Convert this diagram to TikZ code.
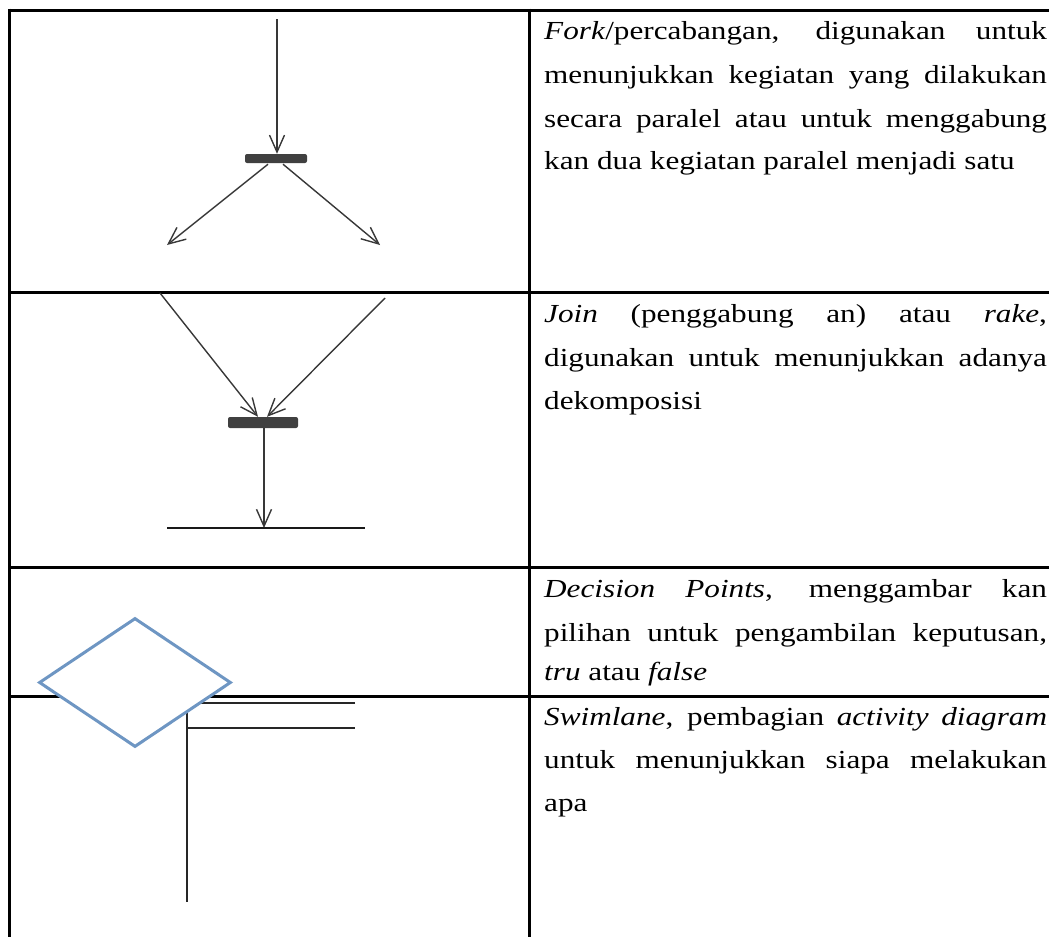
\documentclass[tikz,border=0pt]{standalone}
\usepackage{fontspec}
\setmainfont{Liberation Serif}
\usepackage{graphicx}
\usetikzlibrary{arrows.meta,shapes.geometric,calc}
\newcommand\jline[1]{\scalebox{1.2}[1]{\makebox[419pt][s]{#1}}}
\newcommand\nline[1]{\scalebox{1.2}[1]{#1}}
\definecolor{dblue}{RGB}{110,150,195}
\definecolor{bardark}{RGB}{64,64,64}
\tikzset{
  grid/.style={line width=3pt, draw=black},
  txt/.style={font=\fontsize{26}{30}\selectfont, inner sep=0pt, anchor=base west},
  arr/.style={draw=black!78, line width=1.4pt, -{Straight Barb[length=17pt,width=15pt,line width=1.4pt]}},
  barbox/.style={rectangle, fill=bardark, rounded corners=2pt, inner sep=0pt},
  swim/.style={draw=black!85, line width=2.2pt},
}
\begin{document}
\begin{tikzpicture}[x=1pt,y=-1pt]
\useasboundingbox (0,0) rectangle (1049,937);
% table grid
\draw[grid] (9,10) -- (1049,10);
\draw[grid] (9,292) -- (1049,292);
\draw[grid] (9,567) -- (1049,567);
\draw[grid] (9,696) -- (1049,696);
\draw[grid] (9,8.5) -- (9,937);
\draw[grid] (529,8.5) -- (529,937);

% fork
\node[barbox, minimum width=62pt, minimum height=9pt] (forkbar) at (276,158.5) {};
\coordinate (fin) at (277,19);
\coordinate (fl) at (167,245);
\coordinate (fr) at (380,245);
\draw[arr] (fin) -- (fin |- forkbar.north);
\draw[arr] ($(forkbar.south)+(-8,1)$) -- (fl);
\draw[arr] ($(forkbar.south)+(7,1)$) -- (fr);

% join
\node[barbox, minimum width=70pt, minimum height=11pt] (joinbar) at (263,422.5) {};
\coordinate (j1) at (160,293);
\coordinate (j2) at (385,298);
\coordinate (jend) at (264,528);
\coordinate (jl) at (167,528);
\coordinate (jr) at (365,528);
\draw[arr] (j1) -- ($(joinbar.north)+(-5,0)$);
\draw[arr] (j2) -- ($(joinbar.north)+(4,0)$);
\draw[arr] (joinbar.south -| jend) -- (jend);
\draw[line width=1.6pt, draw=black!90] (jl) -- (jr);

% swimlane
\coordinate (s1) at (355,703);
\coordinate (s2) at (187,703);
\coordinate (s3) at (187,902);
\coordinate (s4) at (187,728);
\coordinate (s5) at (355,728);
\draw[swim] (s1) -- (s2) -- (s3);
\draw[swim] (s4) -- (s5);

% decision
\node[diamond, draw=dblue, line width=3pt, fill=white, minimum width=192pt, minimum height=129pt, inner sep=0pt] (dec) at (135,682.5) {};

% texts
\node[txt] (t11) at (544,39) {\jline{\textit{Fork}/percabangan, digunakan untuk}};
\node[txt] (t12) at (544,83) {\jline{menunjukkan kegiatan yang dilakukan}};
\node[txt] (t13) at (544,127) {\jline{secara paralel atau untuk menggabung}};
\node[txt] (t14) at (544,169) {\nline{kan dua kegiatan paralel menjadi satu}};

\node[txt] (t21) at (544,322) {\jline{\textit{Join} (penggabung an) atau \textit{rake},}};
\node[txt] (t22) at (544,366) {\jline{digunakan untuk menunjukkan adanya}};
\node[txt] (t23) at (544,409) {\nline{dekomposisi}};

\node[txt] (t31) at (544,597) {\jline{\textit{Decision Points}, menggambar kan}};
\node[txt] (t32) at (544,641) {\jline{pilihan untuk pengambilan keputusan,}};
\node[txt] (t33) at (544,680) {\nline{\textit{tru} atau \textit{false}}};

\node[txt] (t41) at (544,725) {\jline{\textit{Swimlane}, pembagian \textit{activity diagram}}};
\node[txt] (t42) at (544,768) {\jline{untuk menunjukkan siapa melakukan}};
\node[txt] (t43) at (544,811) {\nline{apa}};
\end{tikzpicture}
\end{document}
